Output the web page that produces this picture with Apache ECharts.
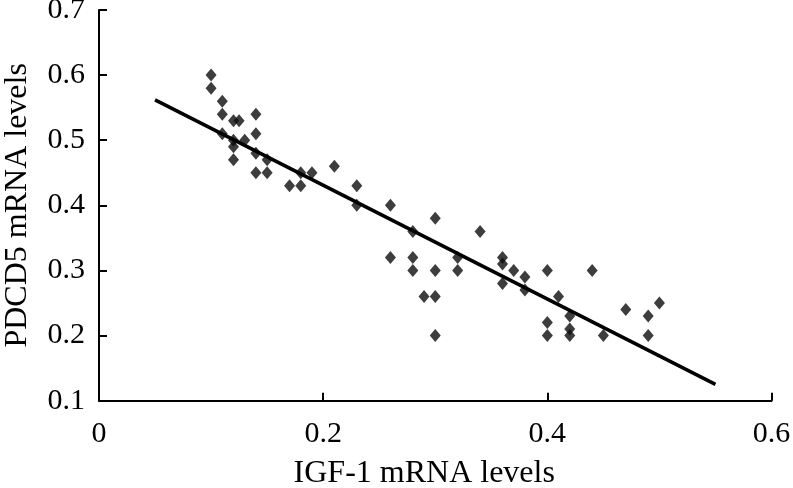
<!DOCTYPE html>
<html>
<head>
<meta charset="utf-8">
<script src="https://cdn.jsdelivr.net/npm/echarts@6/dist/echarts.min.js"></script>
<style>html,body{margin:0;padding:0;background:#fff}#c{width:793px;height:488px}</style>
</head>
<body>
<div id="c"></div>
<script>
const igf1 = [0.10,0.10,0.11,0.11,0.12,0.125,0.14,0.11,0.14,0.12,0.12,0.13,0.14,0.12,0.15,0.14,0.15,0.17,0.18,0.18,0.19,0.21,0.23,0.23,0.26,0.30,0.28,0.34,0.26,0.28,0.28,0.30,0.32,0.32,0.29,0.30,0.30,0.36,0.36,0.37,0.38,0.36,0.38,0.40,0.44,0.41,0.42,0.40,0.40,0.42,0.42,0.45,0.47,0.49,0.49,0.50];
const pdcd5 = [0.60,0.58,0.56,0.54,0.53,0.53,0.54,0.51,0.51,0.50,0.49,0.50,0.48,0.47,0.47,0.45,0.45,0.43,0.43,0.45,0.45,0.46,0.43,0.40,0.40,0.38,0.36,0.36,0.32,0.32,0.30,0.30,0.32,0.30,0.26,0.26,0.20,0.32,0.31,0.30,0.29,0.28,0.27,0.30,0.30,0.26,0.23,0.22,0.20,0.21,0.20,0.20,0.24,0.23,0.20,0.25];
const fitX = [0.05, 0.55];
const fitY = [0.562, 0.125];
const xTicks = [0, 0.2, 0.4, 0.6];
const yTicks = [0.1, 0.2, 0.3, 0.4, 0.5, 0.6, 0.7];

const font = 'Liberation Serif';
const chart = echarts.init(document.getElementById('c'));
const axisCommon = {
  axisLine: {show: true, lineStyle: {color: '#000', width: 2}},
  axisTick: {show: true, inside: true, length: 8, lineStyle: {color: '#000', width: 2}},
  splitLine: {show: false},
};
chart.setOption({
  animation: false,
  backgroundColor: '#fff',
  grid: {left: 99, right: 21.5, top: 10, bottom: 87.3, containLabel: false, outerBoundsMode: 'none'},
  xAxis: Object.assign({}, axisCommon, {
    type: 'value', min: xTicks[0], max: xTicks[xTicks.length - 1], interval: 0.2,
    name: 'IGF-1 mRNA levels', nameLocation: 'middle', nameGap: 57,
    nameTextStyle: {fontFamily: font, fontSize: 32, color: '#000', padding: [0, 22, 0, 0]},
    axisLabel: {fontFamily: font, fontSize: 30, color: '#000', margin: 18, formatter: v => String(v)}
  }),
  yAxis: Object.assign({}, axisCommon, {
    type: 'value', min: yTicks[0], max: yTicks[yTicks.length - 1], interval: 0.1,
    name: 'PDCD5 mRNA levels', nameLocation: 'middle', nameGap: 65,
    nameTextStyle: {fontFamily: font, fontSize: 32, color: '#000'},
    axisLabel: {fontFamily: font, fontSize: 30, color: '#000', margin: 14, formatter: v => String(Math.round(v * 10) / 10)}
  }),
  series: [
    {
      type: 'scatter', symbol: 'diamond', symbolSize: [11, 13],
      itemStyle: {color: '#0d0d0d'},
      data: igf1.map((x, i) => [x, pdcd5[i]]),
      z: 3
    },
    {
      type: 'line', showSymbol: false, symbol: 'none',
      lineStyle: {color: '#000', width: 3.5},
      data: fitX.map((x, i) => [x, fitY[i]]),
      z: 4
    }
  ]
});
</script>
</body>
</html>
